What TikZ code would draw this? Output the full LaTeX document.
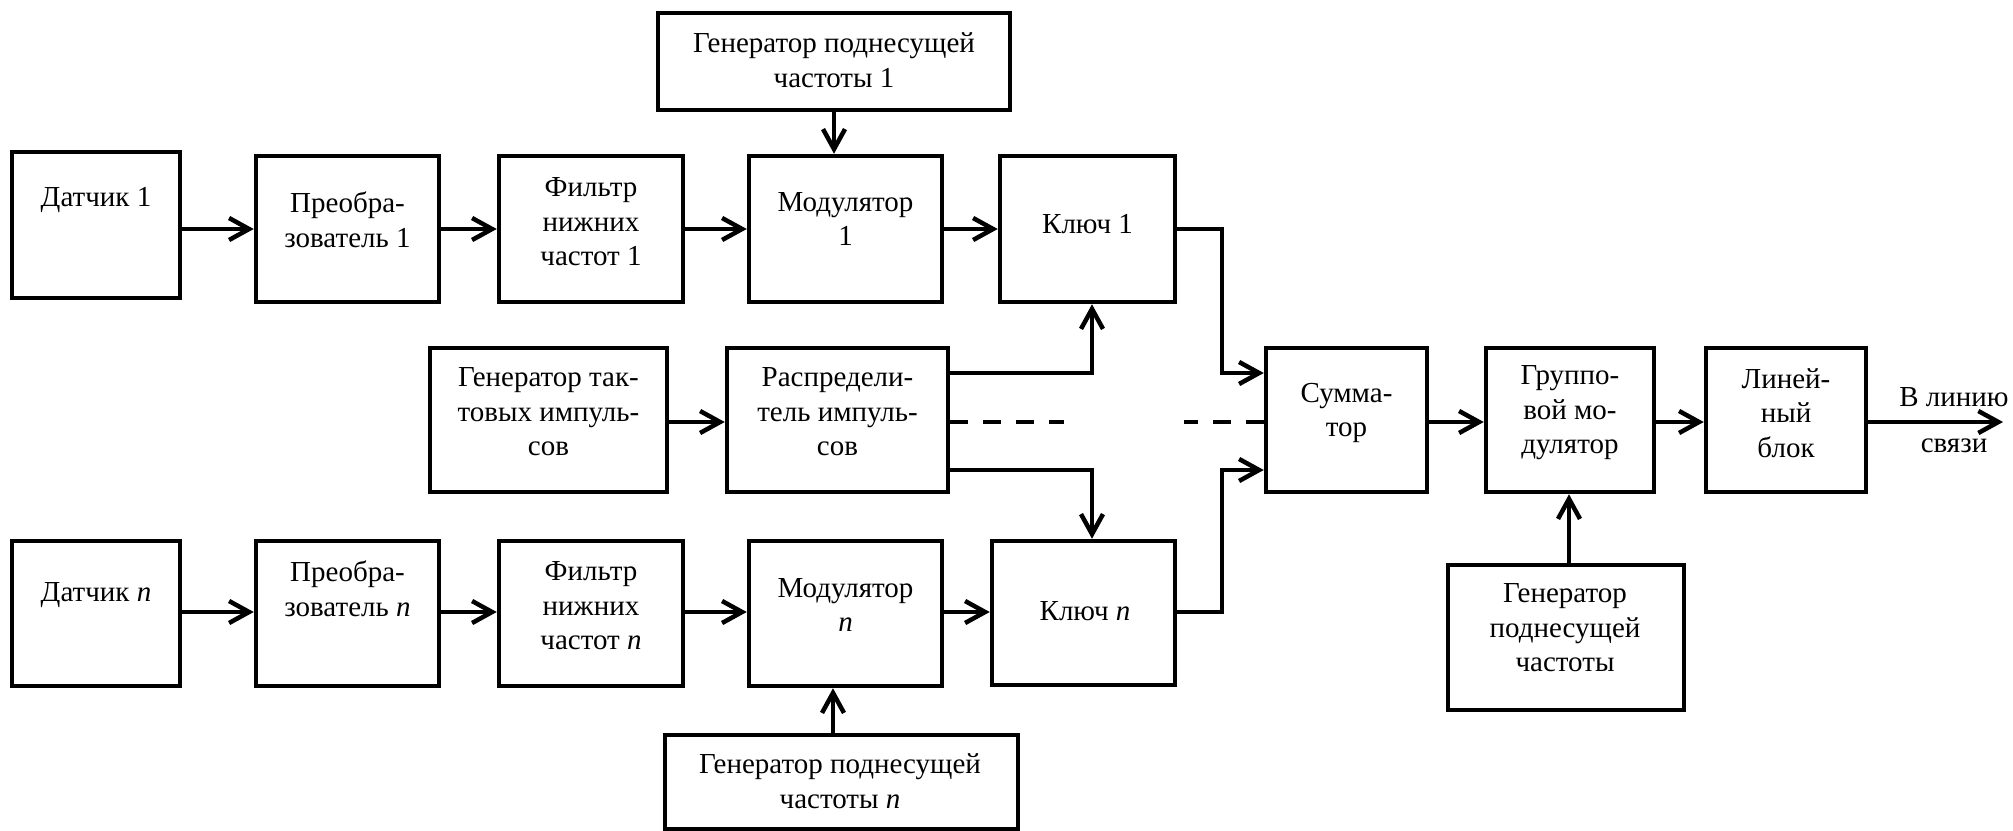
\documentclass[tikz,border=0pt]{standalone}
\usepackage{fontspec}
\setmainfont{Liberation Serif}
\usetikzlibrary{arrows.meta}
\begin{document}
\begin{tikzpicture}[x=1pt,y=-1pt,
  box/.style={draw, line width=4.5pt, inner sep=0pt},
  txt/.style={font=\fontsize{29}{34.5}\selectfont, align=center, inner sep=0pt},
  conn/.style={line width=4.5pt, line cap=rect},
  arr/.style={conn, -{Straight Barb[length=20pt,width=22pt,line width=4.5pt]}},
  dsh/.style={line width=4.5pt, dash pattern=on 18pt off 15pt}]
\useasboundingbox (0,0) rectangle (2013,830);
% top row
\node[box, minimum width=168pt, minimum height=146pt] (d1) at (96,225) {};
\node[box, minimum width=183pt, minimum height=146pt] (p1) at (347.5,229) {};
\node[box, minimum width=184pt, minimum height=146pt] (f1) at (591,229) {};
\node[box, minimum width=193pt, minimum height=146pt] (m1) at (845.5,229) {};
\node[box, minimum width=175pt, minimum height=146pt] (k1) at (1087.5,229) {};
\node[box, minimum width=352pt, minimum height=97pt] (gt) at (834,61.5) {};
% middle row
\node[box, minimum width=237pt, minimum height=144pt] (gk) at (548.5,420) {};
\node[box, minimum width=221pt, minimum height=144pt] (rs) at (837.5,420) {};
\node[box, minimum width=161pt, minimum height=144pt] (sm) at (1346.5,420) {};
\node[box, minimum width=168pt, minimum height=144pt] (gm) at (1570,420) {};
\node[box, minimum width=160pt, minimum height=144pt] (lb) at (1786,420) {};
\node[box, minimum width=236pt, minimum height=145pt] (gp) at (1566,637.5) {};
% bottom row
\node[box, minimum width=168pt, minimum height=145pt] (dn) at (96,613.5) {};
\node[box, minimum width=183pt, minimum height=145pt] (pn) at (347.5,613.5) {};
\node[box, minimum width=184pt, minimum height=145pt] (fn) at (591,613.5) {};
\node[box, minimum width=193pt, minimum height=145pt] (mn) at (845.5,613.5) {};
\node[box, minimum width=183pt, minimum height=144pt] (kn) at (1083.5,613) {};
\node[box, minimum width=353pt, minimum height=94pt] (gb) at (841.5,782) {};
% texts
\node[txt] (td1) at (96,200) {Датчик 1};
\node[txt] (tp1) at (347.5,220) {Преобра-\\зователь 1};
\node[txt] (tf1) at (591,222) {Фильтр\\нижних\\частот 1};
\node[txt] (tm1) at (845.5,219) {Модулятор\\1};
\node[txt] (tk1) at (1087.5,224) {Ключ 1};
\node[txt] (tgt) at (834,60) {Генератор поднесущей\\частоты 1};
\node[txt] (tgk) at (548.5,412) {Генератор так-\\товых импуль-\\сов};
\node[txt] (trs) at (837.5,412) {Распредели-\\тель импуль-\\сов};
\node[txt] (tsm) at (1346.5,413) {Сумма-\\тор};
\node[txt] (tgm) at (1570,413) {Группо-\\вой мо-\\дулятор};
\node[txt] (tlb) at (1786,413) {Линей-\\ный\\блок};
\node[txt] (tgp) at (1565,628) {Генератор\\поднесущей\\частоты};
\node[txt] (tdn) at (96,595) {Датчик \textit{n}};
\node[txt] (tpn) at (347.5,589) {Преобра-\\зователь \textit{n}};
\node[txt] (tfn) at (591,606) {Фильтр\\нижних\\частот \textit{n}};
\node[txt] (tmn) at (845.5,605) {Модулятор\\\textit{n}};
\node[txt] (tkn) at (1085,611) {Ключ \textit{n}};
\node[txt] (tgb) at (840,781) {Генератор поднесущей\\частоты \textit{n}};
\node[txt] (tv1) at (1954,397) {В линию};
\node[txt] (tv2) at (1954,446) {связи};
% helper coordinates
\coordinate (jx) at (1222,0);
\coordinate (rx) at (1092,0);
\coordinate (out) at (2003,422);
% top row arrows
\draw[arr] (d1.east |- 0,229) -- (p1.west);
\draw[arr] (p1) -- (f1);
\draw[arr] (f1) -- (m1);
\draw[arr] (m1) -- (k1);
\draw[arr] (gt) -- (m1.north -| gt);
% bottom row arrows
\draw[arr] (dn.east |- 0,612) -- (pn.west |- 0,612);
\draw[arr] (pn.east |- 0,612) -- (fn.west |- 0,612);
\draw[arr] (fn.east |- 0,612) -- (mn.west |- 0,612);
\draw[arr] (mn.east |- 0,612) -- (kn.west |- 0,612);
\draw[arr] (gb.north -| 833,0) -- (mn.south -| 833,0);
% middle
\draw[arr] (gk.east |- 0,422) -- (rs.west |- 0,422);
\draw[arr] (rs.east |- 0,373) -- (rx |- 0,373) -- (k1.south -| rx);
\draw[arr] (rs.east |- 0,470) -- (rx |- 0,470) -- (kn.north -| rx);
\draw[arr] (k1.east |- 0,229) -- (jx |- 0,229) -- (jx |- 0,373) -- (sm.west |- 0,373);
\draw[arr] (kn.east |- 0,612) -- (jx |- 0,612) -- (jx |- 0,470) -- (sm.west |- 0,470);
\draw[dsh] (rs.east |- 0,422) -- (1064,422);
\draw[dsh] (sm.west |- 0,422) -- (1184,422);
\draw[arr] (sm.east |- 0,422) -- (gm.west |- 0,422);
\draw[arr] (gm.east |- 0,422) -- (lb.west |- 0,422);
\draw[arr] (lb.east |- 0,422) -- (out);
\draw[arr] (gp.north -| 1569,0) -- (gm.south -| 1569,0);
\end{tikzpicture}
\end{document}
